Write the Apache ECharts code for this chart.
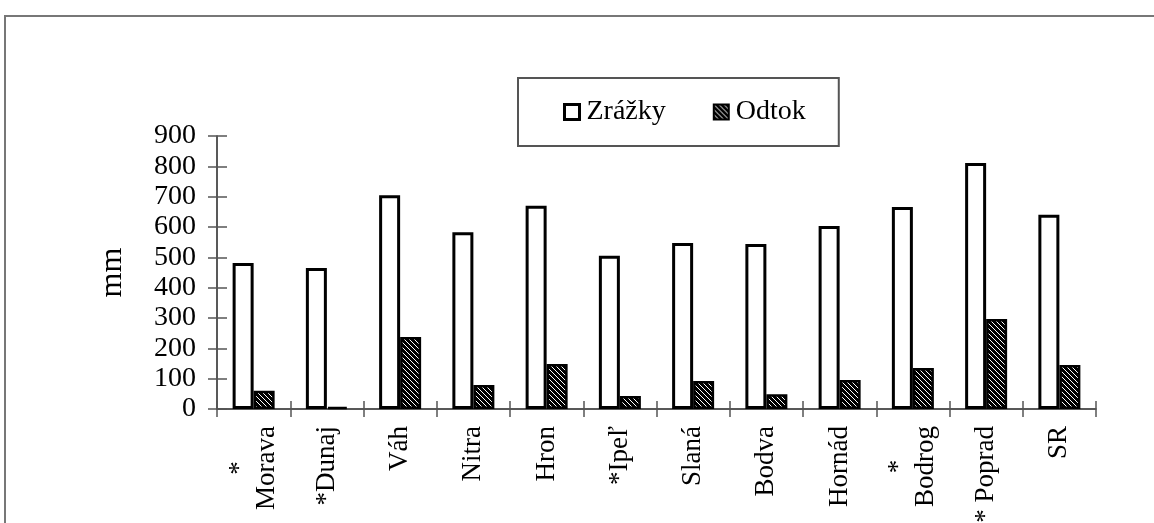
<!DOCTYPE html>
<html>
<head>
<meta charset="utf-8">
<script src="https://cdn.jsdelivr.net/npm/echarts@6/dist/echarts.min.js"></script>
<style>
html,body{margin:0;padding:0;background:#fff;}
#chart{width:1154px;height:523px;}
</style>
</head>
<body>
<div id="chart"></div>
<script>
var categories = ['*\nMorava', '*Dunaj', 'Váh', 'Nitra', 'Hron', '*Ipeľ', 'Slaná', 'Bodva', 'Hornád', '*\nBodrog', '* Poprad', 'SR'];
var zrazky = [481, 465, 705, 583, 670, 505, 547, 544, 603, 666, 811, 640];
var odtok = [60, 7, 237, 79, 148, 43, 92, 49, 96, 135, 297, 145];
var yTicks = [0, 100, 200, 300, 400, 500, 600, 700, 800, 900];

function hatch() {
  var c = document.createElement('canvas');
  c.width = 5; c.height = 5;
  var g = c.getContext('2d');
  g.fillStyle = '#000';
  g.fillRect(0, 0, 5, 5);
  g.strokeStyle = '#fff';
  g.lineWidth = 1;
  g.beginPath();
  g.moveTo(-1, -1); g.lineTo(6, 6);
  g.moveTo(4, -1); g.lineTo(6, 1);
  g.moveTo(-1, 4); g.lineTo(1, 6);
  g.stroke();
  return c;
}
var hatchFill = { image: hatch(), repeat: 'repeat' };

var font = 'Liberation Serif';
var chart = echarts.init(document.getElementById('chart'));
chart.setOption({
  animation: false,
  graphic: [{
    type: 'rect',
    shape: { x: 5, y: 16, width: 1300, height: 700 },
    style: { fill: 'none', stroke: '#777', lineWidth: 2 },
    z: -1
  }],
  legend: {
    left: 518, top: 78,
    padding: [20, 33, 20, 45],
    borderColor: '#555', borderWidth: 2,
    itemGap: 47, itemWidth: 15, itemHeight: 15,
    icon: 'rect',
    textStyle: { fontFamily: font, fontSize: 28, color: '#000', padding: [0, 0, 0, 2] },
    data: [
      { name: 'Zrážky', itemStyle: { color: '#fff', borderColor: '#000', borderWidth: 3 } },
      { name: 'Odtok', itemStyle: { color: hatchFill, borderColor: '#000', borderWidth: 2 } }
    ]
  },
  grid: { left: 217, right: 58, top: 136, bottom: 114, containLabel: false, outerBoundsMode: 'none' },
  xAxis: [{
    type: 'category', data: categories, position: 'bottom',
    axisLine: { lineStyle: { color: '#222', width: 1.5 } },
    axisTick: { show: true, length: 8, lineStyle: { color: '#555', width: 1.5 } },
    axisLabel: {
      rotate: 90, margin: 17, interval: 0,
      fontFamily: font, fontSize: 27, color: '#000',
      formatter: function (v) {
        return v.split('\n').map(function (s) { return '{c|' + s + '}'; }).join('\n');
      },
      rich: { c: { align: 'center', fontFamily: font, fontSize: 27, color: '#000' } }
    }
  }, {
    type: 'category', data: categories, position: 'bottom', offset: 0,
    axisLine: { show: false },
    axisTick: { show: true, inside: true, length: 8, lineStyle: { color: '#555', width: 1.5 } },
    axisLabel: { show: false }
  }],
  yAxis: [{
    type: 'value', min: 0, max: 900, interval: 100, position: 'left',
    name: 'mm', nameLocation: 'middle', nameRotate: 90, nameGap: 88,
    nameTextStyle: { fontFamily: font, fontSize: 32, color: '#000' },
    splitLine: { show: false },
    axisLine: { show: true, lineStyle: { color: '#222', width: 1.5 } },
    axisTick: { show: true, length: 9, lineStyle: { color: '#555', width: 1.5 } },
    axisLabel: {
      margin: 21, fontFamily: font, fontSize: 28, color: '#000',
      formatter: function (v) { return yTicks.indexOf(v) >= 0 ? String(v) : ''; }
    }
  }, {
    type: 'value', min: 0, max: 900, interval: 100, position: 'left', offset: 0,
    splitLine: { show: false },
    axisLine: { show: false },
    axisTick: { show: true, inside: true, length: 10, lineStyle: { color: '#555', width: 1.5 } },
    axisLabel: { show: false }
  }],
  series: [{
    name: 'Zrážky', type: 'bar', data: zrazky, barWidth: 21, barGap: '0%',
    itemStyle: { color: '#fff', borderColor: '#000', borderWidth: 3 }
  }, {
    name: 'Odtok', type: 'bar', data: odtok, barWidth: 21,
    itemStyle: { color: hatchFill, borderColor: '#000', borderWidth: 2.5 }
  }]
});
</script>
</body>
</html>
